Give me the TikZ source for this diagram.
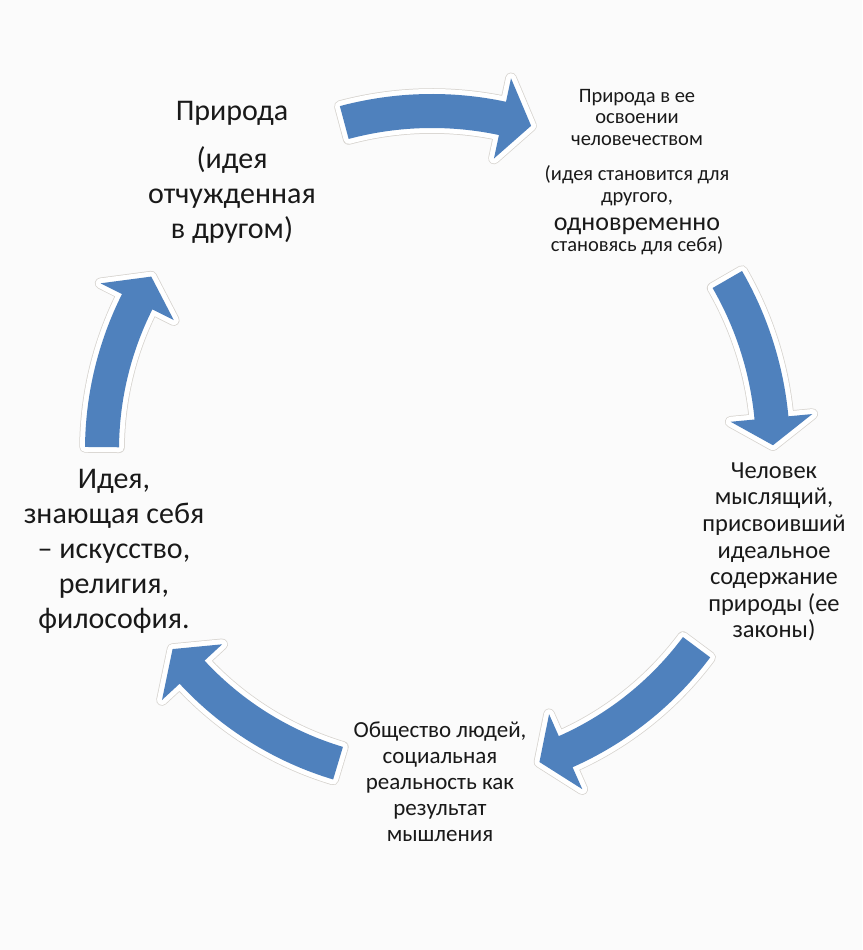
\documentclass[tikz,border=0pt]{standalone}
\usepackage{fontspec}
\setmainfont{Carlito}
\usetikzlibrary{positioning,calc}
\definecolor{paper}{RGB}{251,251,251}
\definecolor{cycleblue}{RGB}{79,129,189}
\definecolor{rim}{RGB}{214,211,206}
\definecolor{ink}{RGB}{25,25,25}
\newcommand{\fsbig}{\fontsize{30}{35}\selectfont}
\newcommand{\fsmid}{\fontsize{24.5}{26.6}\selectfont}
\newcommand{\fsbot}{\fontsize{23}{26}\selectfont}
\newcommand{\fssmall}{\fontsize{20.5}{21.5}\selectfont}
\newcommand{\fsaccent}{\fontsize{26}{21.5}\selectfont}
\tikzset{
  stage/.style={align=center,text=ink,inner sep=0pt,font=#1},
  blockarrow/.style={fill=cycleblue,line join=round,
    preaction={draw=rim,line width=11.5pt,line join=round},
    preaction={draw=white,line width=10pt,line join=round}}
}
% curved block arrow round the hub: tail angle, head angle, tip angle, radius
\newcommand{\cyclearrow}[4]{%
  \pgfmathsetmacro\ro{#4+17}\pgfmathsetmacro\ri{#4-17}%
  \pgfmathsetmacro\hro{#4+41}\pgfmathsetmacro\hri{#4-41}%
  \path[blockarrow] ($(hub)+(#1:\ro pt)$)
    arc[start angle=#1,end angle=#2,radius=\ro pt]
    -- ($(hub)+(#2:\hro pt)$) -- ($(hub)+(#3:#4pt)$) -- ($(hub)+(#2:\hri pt)$)
    -- ($(hub)+(#2:\ri pt)$)
    arc[start angle=#2,end angle=#1,radius=\ri pt] -- cycle;}
\begin{document}
\begin{tikzpicture}[x=1pt,y=1pt]
  \useasboundingbox[fill=paper] (-432,-500) rectangle (430,450);
  \coordinate (hub) at (0,0);
  % the five arrows of the cycle
  \foreach \tail/\head/\tip/\rad in {105/78/73/339, 30/5.4/0.8/341,
      -36.7/-66.1/-71/330, -106.7/-137.2/-142.5/327, 179.5/153.3/148.3/330}
    \cyclearrow{\tail}{\head}{\tip}{\rad};
  % stages
  \node[stage=\fsbig] (nature) at (-200,278) {Природа\\[13pt](идея\\отчужденная\\в другом)};
  \node[stage=\fssmall] (mastery) at (205,333) {Природа в ее\\освоении\\человечеством};
  \node[stage=\fssmall,below=20pt of mastery] (otherness)
    {(идея становится для\\другого,\\[6.5pt]{\fsaccent одновременно}\\становясь для себя)};
  \node[stage=\fsmid] (thinker) at (342,-102)
    {Человек\\мыслящий,\\присвоивший\\идеальное\\содержание\\природы (ее\\законы)};
  \node[stage=\fsbot] (society) at (8,-332)
    {Общество людей,\\социальная\\реальность как\\результат\\мышления};
  \node[stage=\fsbig] (spirit) at (-318,-101)
    {Идея,\\знающая себя\\– искусство,\\религия,\\философия.};
\end{tikzpicture}
\end{document}
